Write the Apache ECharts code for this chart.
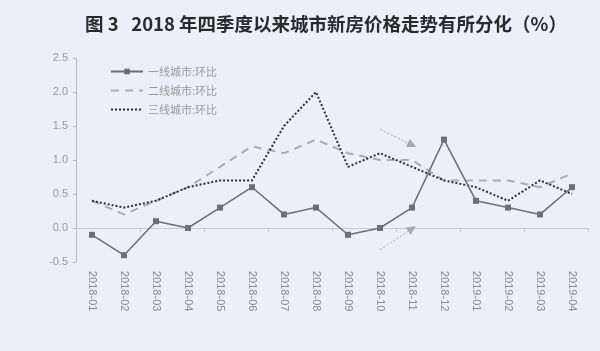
<!DOCTYPE html>
<html><head><meta charset="utf-8">
<script src="https://cdn.jsdelivr.net/npm/echarts@6/dist/echarts.min.js"></script>
<style>html,body{margin:0;padding:0;background:#eceef8;}#c{width:600px;height:351px;}</style>
</head><body><div id="c"></div>
<script>
const categories = ['2018-01','2018-02','2018-03','2018-04','2018-05','2018-06','2018-07','2018-08','2018-09','2018-10','2018-11','2018-12','2019-01','2019-02','2019-03','2019-04'];
const tier1 = [-0.1,-0.4,0.1,0.0,0.3,0.6,0.2,0.3,-0.1,0.0,0.3,1.3,0.4,0.3,0.2,0.6];
const tier2 = [0.4,0.2,0.4,0.6,0.9,1.2,1.1,1.3,1.1,1.0,1.0,0.7,0.7,0.7,0.6,0.8];
const tier3 = [0.4,0.3,0.4,0.6,0.7,0.7,1.5,2.0,0.9,1.1,0.9,0.7,0.6,0.4,0.7,0.5];
const seriesNames = ['一线城市:环比','二线城市:环比','三线城市:环比'];
const yTicks = {min:-0.5, max:2.5, interval:0.5};
const arrows = [
  [[9,1.45],[10.1,1.22]],
  [[9,-0.32],[10.1,-0.01]]
];

const chart = echarts.init(document.getElementById('c'));
chart.setOption({
  backgroundColor:'#eceef8',
  animation:false,
  title:{text:'图 3   2018 年四季度以来城市新房价格走势有所分化（%）', left:80, top:10,
    textStyle:{fontFamily:'Noto Sans CJK SC', fontSize:18.5, fontWeight:'bold', color:'#2a2a2a'}},
  legend:{orient:'vertical', left:105, top:61, itemWidth:32, itemHeight:7, itemGap:8,
    textStyle:{color:'#9a9a9a', fontSize:11, fontFamily:'Noto Sans CJK SC'},
    data:[
      {name:seriesNames[0]},
      {name:seriesNames[1], itemStyle:{opacity:0}},
      {name:seriesNames[2], itemStyle:{opacity:0}}
    ]},
  grid:{left:76, right:12, top:58, bottom:89},
  xAxis:[
    {type:'category', data:categories, boundaryGap:true, position:'bottom',
      axisLine:{show:false, onZero:false}, axisTick:{show:false},
      axisLabel:{rotate:-90, color:'#8a8a8a', fontSize:11, margin:9, fontFamily:'Liberation Sans'}},
    {type:'category', data:categories, boundaryGap:true, position:'top',
      axisLine:{show:true, onZero:true, lineStyle:{color:'#c8c8d0', width:1}},
      axisTick:{show:true, inside:true, length:4, lineStyle:{color:'#c8c8d0'}},
      axisLabel:{show:false}}
  ],
  yAxis:{type:'value', min:yTicks.min, max:yTicks.max, interval:yTicks.interval,
    axisLine:{show:true, lineStyle:{color:'#b8b8c0'}},
    axisTick:{show:true, length:3, lineStyle:{color:'#b8b8c0'}},
    splitLine:{show:false},
    axisLabel:{color:'#9a9a9a', fontSize:11, margin:8, fontFamily:'Liberation Sans',
      formatter:v=>v.toFixed(1)}},
  series:[
    {name:seriesNames[0], type:'line', data:tier1, symbol:'rect', symbolSize:6,
      itemStyle:{color:'#6e6e74'}, lineStyle:{color:'#6e6e74', width:1.5}, z:5},
    {name:seriesNames[1], type:'line', data:tier2, symbol:'none',
      itemStyle:{color:'#ababb2'}, lineStyle:{color:'#ababb2', width:2, type:[8,6]}},
    {name:seriesNames[2], type:'line', data:tier3, symbol:'none',
      itemStyle:{color:'#2e2e34'}, lineStyle:{color:'#2e2e34', width:2, type:[2,2]},
      markLine:{silent:true, symbol:['none','triangle'], symbolSize:[9,9],
        label:{show:false},
        lineStyle:{color:'#a8a8b0', type:[2,2], width:1},
        data:arrows.map(a=>[{coord:a[0]},{coord:a[1]}])}}
  ]
});
</script></body></html>
